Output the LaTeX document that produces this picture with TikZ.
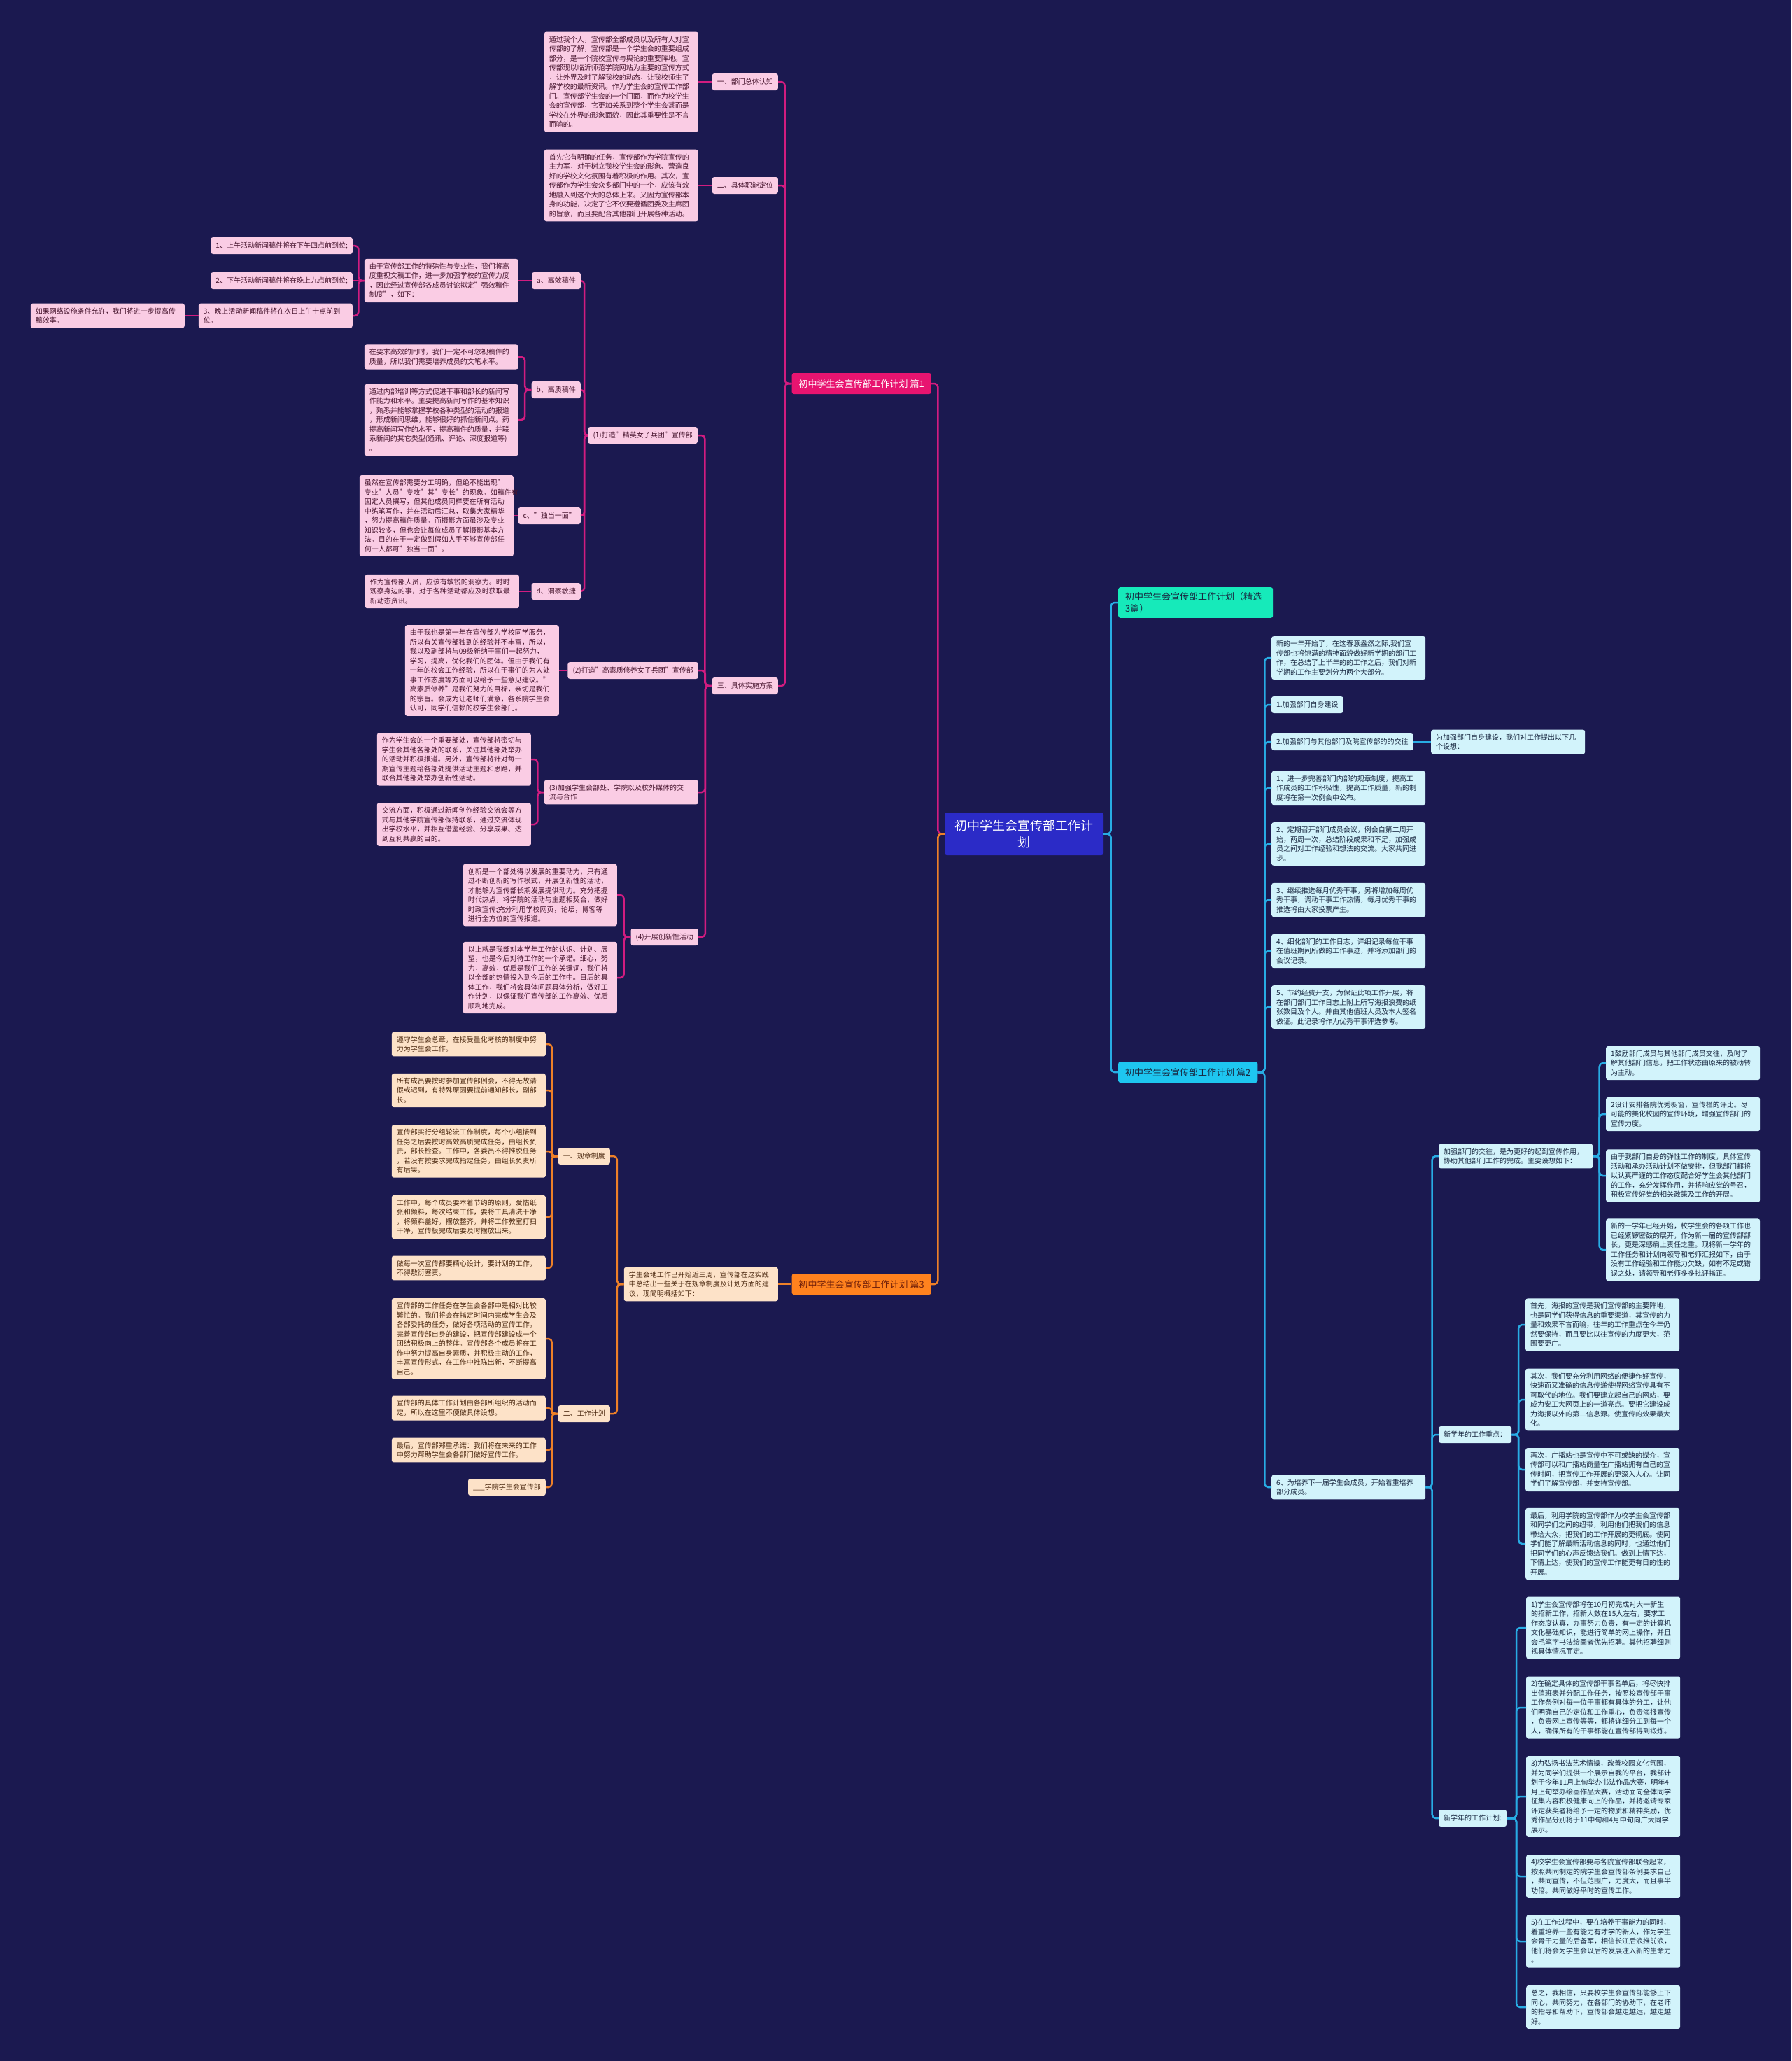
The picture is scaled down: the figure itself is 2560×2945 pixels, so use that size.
\documentclass[tikz,border=0pt]{standalone}
\usepackage{fontspec}
\setmainfont{Noto Sans CJK SC}
\usepackage{tikz}
\usetikzlibrary{calc}
\definecolor{bgnavy}{RGB}{27,25,80}
\definecolor{rootfill}{RGB}{43,43,199}
\definecolor{pkline}{RGB}{210,28,128}
\definecolor{pkhead}{RGB}{232,20,112}
\definecolor{pkfill}{RGB}{250,204,228}
\definecolor{pktext}{RGB}{70,20,45}
\definecolor{orline}{RGB}{238,128,40}
\definecolor{orhead}{RGB}{255,130,30}
\definecolor{orfill}{RGB}{253,226,200}
\definecolor{ortext}{RGB}{75,40,15}
\definecolor{orheadtext}{RGB}{110,30,10}
\definecolor{cyline}{RGB}{40,172,228}
\definecolor{cyhead}{RGB}{30,198,240}
\definecolor{jxfill}{RGB}{22,234,186}
\definecolor{cyfill}{RGB}{210,243,251}
\definecolor{cytext}{RGB}{25,40,65}
\tikzset{
  lnk/.style={line width=2.5pt, rounded corners=5pt,
    to path={-| ($(\tikztostart)!.5!(\tikztotarget)$) |- (\tikztotarget)}},
  pkl/.style={lnk, draw=pkline},
  orl/.style={lnk, draw=orline},
  cyl/.style={lnk, draw=cyline},
  root/.style={fill=rootfill, text=white, rounded corners=3pt, font=\fontsize{18}{24.3}\selectfont,
    align=center, text width=200pt, inner xsep=13.5pt, inner ysep=10pt},
  head/.style={rounded corners=3pt, font=\fontsize{13}{17.3}\selectfont, inner xsep=10pt,
    inner ysep=7pt, minimum height=30pt, align=left},
  txt/.style={rounded corners=3pt, font=\fontsize{10}{13.5}\selectfont, inner xsep=7pt,
    inner ysep=6pt, align=left},
  lbl/.style={txt, minimum height=24pt},
  box/.style={txt, text width=206pt},
  pk/.style={fill=pkfill, text=pktext},
  og/.style={fill=orfill, text=ortext},
  cy/.style={fill=cyfill, text=cytext}
}
\begin{document}
\begin{tikzpicture}[x=1pt, y=-1pt]

  % background
  \fill[bgnavy] (0,0) rectangle (2560,2945);
  \useasboundingbox (0,0) rectangle (2560,2945);

  % root
  \node[root] (root) at (1463.5,1191.5) {初中学生会宣传部工作计\\划};

  % main branches
  \node[head, fill=pkhead, text=white, anchor=east] (pian1) at (1331,548) {初中学生会宣传部工作计划 篇1};
  \node[head, fill=orhead, text=orheadtext, anchor=east] (pian3) at (1331,1835) {初中学生会宣传部工作计划 篇3};
  \node[head, fill=jxfill, text=cytext, text width=201pt, anchor=west] (jx) at (1598,861) {初中学生会宣传部工作计划（精选\\3篇）};
  \node[head, fill=cyhead, text=cytext, anchor=west] (pian2) at (1598,1532) {初中学生会宣传部工作计划 篇2};

  \draw[pkl] (root.west) to (pian1.east);
  \draw[orl] (root.west) to (pian3.east);
  \draw[cyl] (root.east) to (jx.west);
  \draw[cyl] (root.east) to (pian2.west);

  % ---------- 篇1 ----------
  \node[lbl, pk, anchor=east] (renzhi) at (1112,117) {一、部门总体认知};
  \node[box, pk, anchor=east] (renzhiTxt) at (998,117) {通过我个人，宣传部全部成员以及所有人对宣\\传部的了解，宣传部是一个学生会的重要组成\\部分，是一个院校宣传与舆论的重要阵地。宣\\传部现以临沂师范学院网站为主要的宣传方式\\，让外界及时了解我校的动态，让我校师生了\\解学校的最新资讯。作为学生会的宣传工作部\\门。宣传部学生会的一个门面，而作为校学生\\会的宣传部，它更加关系到整个学生会甚而是\\学校在外界的形象面貌，因此其重要性是不言\\而喻的。};
  \node[lbl, pk, anchor=east] (dingwei) at (1112,265) {二、具体职能定位};
  \node[box, pk, anchor=east] (dingweiTxt) at (998,265) {首先它有明确的任务，宣传部作为学院宣传的\\主力军，对于树立我校学生会的形象、营造良\\好的学校文化氛围有着积极的作用。其次，宣\\传部作为学生会众多部门中的一个，应该有效\\地融入到这个大的总体上来。又因为宣传部本\\身的功能，决定了它不仅要遵循团委及主席团\\的旨意，而且要配合其他部门开展各种活动。};
  \node[lbl, pk, anchor=east] (fangan) at (1112,980) {三、具体实施方案};

  \draw[pkl] (pian1.west) to (renzhi.east);
  \draw[pkl] (pian1.west) to (dingwei.east);
  \draw[pkl] (pian1.west) to (fangan.east);
  \draw[pkl] (renzhi.west) -- (renzhiTxt.east);
  \draw[pkl] (dingwei.west) -- (dingweiTxt.east);

  % (1) 精英女子兵团
  \node[lbl, pk, anchor=east] (jingying) at (997,622) {(1)打造"精英女子兵团"宣传部};
  \node[lbl, pk, anchor=east] (gaoxiao) at (830,401) {a、高效稿件};
  \node[box, pk, anchor=east] (gaoxiaoTxt) at (741,401) {由于宣传部工作的特殊性与专业性，我们将高\\度重视文稿工作，进一步加强学校的宣传力度\\，因此经过宣传部各成员讨论拟定"强效稿件\\制度"，如下：};
  \node[lbl, pk, anchor=east] (gx1) at (504,351) {1、上午活动新闻稿件将在下午四点前到位;};
  \node[lbl, pk, anchor=east] (gx2) at (504,401) {2、下午活动新闻稿件将在晚上九点前到位;};
  \node[box, pk, anchor=east] (gx3) at (504,451) {3、晚上活动新闻稿件将在次日上午十点前到\\位。};
  \node[box, pk, anchor=east] (gx3a) at (264,451) {如果网络设施条件允许，我们将进一步提高传\\稿效率。};
  \node[lbl, pk, anchor=east] (gaozhi) at (830,557) {b、高质稿件};
  \node[box, pk, anchor=east] (gaozhiA) at (741,510) {在要求高效的同时，我们一定不可忽视稿件的\\质量，所以我们需要培养成员的文笔水平。};
  \node[box, pk, anchor=east] (gaozhiB) at (741,600) {通过内部培训等方式促进干事和部长的新闻写\\作能力和水平。主要提高新闻写作的基本知识\\，熟悉并能够掌握学校各种类型的活动的报道\\，形成新闻思维，能够很好的抓住新闻点。药\\提高新闻写作的水平，提高稿件的质量，并联\\系新闻的其它类型(通讯、评论、深度报道等)\\。};
  \node[lbl, pk, anchor=east] (dudang) at (830,737) {c、"独当一面"};
  \node[box, pk, anchor=east] (dudangTxt) at (734,737) {虽然在宣传部需要分工明确，但绝不能出现"\\专业"人员"专攻"其"专长"的现象。如稿件有\\固定人员撰写，但其他成员同样要在所有活动\\中练笔写作，并在活动后汇总，取集大家精华\\，努力提高稿件质量。而摄影方面虽涉及专业\\知识较多，但也会让每位成员了解摄影基本方\\法。目的在于一定做到假如人手不够宣传部任\\何一人都可"独当一面"。};
  \node[lbl, pk, anchor=east] (dongcha) at (830,845) {d、洞察敏捷};
  \node[box, pk, anchor=east] (dongchaTxt) at (742,845) {作为宣传部人员，应该有敏锐的洞察力。时时\\观察身边的事，对于各种活动都应及时获取最\\新动态资讯。};

  \draw[pkl] (fangan.west) to (jingying.east);
  \draw[pkl] (jingying.west) to (gaoxiao.east);
  \draw[pkl] (jingying.west) to (gaozhi.east);
  \draw[pkl] (jingying.west) to (dudang.east);
  \draw[pkl] (jingying.west) to (dongcha.east);
  \draw[pkl] (gaoxiao.west) -- (gaoxiaoTxt.east);
  \draw[pkl] (gaoxiaoTxt.west) to (gx1.east);
  \draw[pkl] (gaoxiaoTxt.west) -- (gx2.east);
  \draw[pkl] (gaoxiaoTxt.west) to (gx3.east);
  \draw[pkl] (gx3.west) -- (gx3a.east);
  \draw[pkl] (gaozhi.west) to (gaozhiA.east);
  \draw[pkl] (gaozhi.west) to (gaozhiB.east);
  \draw[pkl] (dudang.west) -- (dudangTxt.east);
  \draw[pkl] (dongcha.west) -- (dongchaTxt.east);

  % (2) (3) (4)
  \node[lbl, pk, anchor=east] (suzhi) at (998,958) {(2)打造"高素质修养女子兵团"宣传部};
  \node[box, pk, anchor=east] (suzhiTxt) at (799,958) {由于我也是第一年在宣传部为学校同学服务，\\所以有关宣传部独到的经验并不丰富，所以，\\我以及副部将与09级新纳干事们一起努力，\\学习，提高，优化我们的团体。但由于我们有\\一年的校会工作经验，所以在干事们的为人处\\事工作态度等方面可以给予一些意见建议。"\\高素质修养"是我们努力的目标，亲切是我们\\的宗旨。会成为让老师们满意，各系院学生会\\认可，同学们信赖的校学生会部门。};
  \node[box, pk, anchor=east] (jiaoliu) at (998,1132) {(3)加强学生会部处、学院以及校外媒体的交\\流与合作};
  \node[box, pk, anchor=east] (jiaoliuA) at (759,1085) {作为学生会的一个重要部处，宣传部将密切与\\学生会其他各部处的联系，关注其他部处举办\\的活动并积极报道。另外，宣传部将针对每一\\期宣传主题给各部处提供活动主题和思路，并\\联合其他部处举办创新性活动。};
  \node[box, pk, anchor=east] (jiaoliuB) at (759,1178) {交流方面，积极通过新闻创作经验交流会等方\\式与其他学院宣传部保持联系，通过交流体现\\出学校水平，并相互借鉴经验、分享成果、达\\到互利共赢的目的。};
  \node[lbl, pk, anchor=east] (chuangxin) at (998,1339) {(4)开展创新性活动};
  \node[box, pk, anchor=east] (chuangxinA) at (882,1279) {创新是一个部处得以发展的重要动力，只有通\\过不断创新的写作模式，开展创新性的活动，\\才能够为宣传部长期发展提供动力。充分把握\\时代热点，将学院的活动与主题相契合，做好\\时政宣传;充分利用学校网页，论坛，博客等\\进行全方位的宣传报道。};
  \node[box, pk, anchor=east] (chuangxinB) at (882,1397) {以上就是我部对本学年工作的认识、计划、展\\望，也是今后对待工作的一个承诺。细心，努\\力，高效，优质是我们工作的关键词，我们将\\以全部的热情投入到今后的工作中。日后的具\\体工作，我们将会具体问题具体分析，做好工\\作计划，以保证我们宣传部的工作高效、优质\\顺利地完成。};

  \draw[pkl] (fangan.west) to (suzhi.east);
  \draw[pkl] (fangan.west) to (jiaoliu.east);
  \draw[pkl] (fangan.west) to (chuangxin.east);
  \draw[pkl] (suzhi.west) -- (suzhiTxt.east);
  \draw[pkl] (jiaoliu.west) to (jiaoliuA.east);
  \draw[pkl] (jiaoliu.west) to (jiaoliuB.east);
  \draw[pkl] (chuangxin.west) to (chuangxinA.east);
  \draw[pkl] (chuangxin.west) to (chuangxinB.east);

  % ---------- 篇3 ----------
  \node[box, og, anchor=east] (zongjie) at (1112,1835) {学生会地工作已开始近三周，宣传部在这实践\\中总结出一些关于在规章制度及计划方面的建\\议，现简明概括如下：};
  \node[lbl, og, anchor=east] (guizhang) at (872,1652) {一、规章制度};
  \node[box, og, anchor=east] (gz1) at (780,1492) {遵守学生会总章，在接受量化考核的制度中努\\力为学生会工作。};
  \node[box, og, anchor=east] (gz2) at (780,1558) {所有成员要按时参加宣传部例会，不得无故请\\假或迟到，有特殊原因要提前通知部长，副部\\长。};
  \node[box, og, anchor=east] (gz3) at (780,1645) {宣传部实行分组轮流工作制度，每个小组接到\\任务之后要按时高效高质完成任务，由组长负\\责，部长检查。工作中，各委员不得推脱任务\\，若没有按要求完成指定任务，由组长负责所\\有后果。};
  \node[box, og, anchor=east] (gz4) at (780,1739) {工作中，每个成员要本着节约的原则，爱惜纸\\张和颜料，每次结束工作，要将工具清洗干净\\，将颜料盖好，摆放整齐，并将工作教室打扫\\干净，宣传板完成后要及时摆放出来。};
  \node[box, og, anchor=east] (gz5) at (780,1812) {做每一次宣传都要精心设计，要计划的工作，\\不得敷衍塞责。};
  \node[lbl, og, anchor=east] (jihua) at (872,2020) {二、工作计划};
  \node[box, og, anchor=east] (jh1) at (780,1913) {宣传部的工作任务在学生会各部中是相对比较\\繁忙的。我们将会在指定时间内完成学生会及\\各部委托的任务，做好各项活动的宣传工作。\\完善宣传部自身的建设，把宣传部建设成一个\\团结积极向上的整体。宣传部各个成员将在工\\作中努力提高自身素质，并积极主动的工作，\\丰富宣传形式，在工作中推陈出新，不断提高\\自己。};
  \node[box, og, anchor=east] (jh2) at (780,2012) {宣传部的具体工作计划由各部所组织的活动而\\定，所以在这里不便做具体设想。};
  \node[box, og, anchor=east] (jh3) at (780,2072) {最后，宣传部郑重承诺：我们将在未来的工作\\中努力帮助学生会各部门做好宣传工作。};
  \node[lbl, og, anchor=east] (jh4) at (780,2125) {\_\_\_学院学生会宣传部};

  \draw[orl] (pian3.west) -- (zongjie.east);
  \draw[orl] (zongjie.west) to (guizhang.east);
  \draw[orl] (zongjie.west) to (jihua.east);
  \draw[orl] (guizhang.west) to (gz1.east);
  \draw[orl] (guizhang.west) to (gz2.east);
  \draw[orl] (guizhang.west) to (gz3.east);
  \draw[orl] (guizhang.west) to (gz4.east);
  \draw[orl] (guizhang.west) to (gz5.east);
  \draw[orl] (jihua.west) to (jh1.east);
  \draw[orl] (jihua.west) to (jh2.east);
  \draw[orl] (jihua.west) to (jh3.east);
  \draw[orl] (jihua.west) to (jh4.east);

  % ---------- 篇2 ----------
  \node[box, cy, anchor=west] (xinnian) at (1817,940) {新的一年开始了，在这春意盎然之际,我们宣\\传部也将饱满的精神面貌做好新学期的部门工\\作，在总结了上半年的的工作之后，我们对新\\学期的工作主要划分为两个大部分。};
  \node[lbl, cy, anchor=west] (jianshe) at (1817,1007) {1.加强部门自身建设};
  \node[lbl, cy, anchor=west] (jiaowang) at (1817,1060) {2.加强部门与其他部门及院宣传部的的交往};
  \node[box, cy, anchor=west] (shexiang) at (2045,1060) {为加强部门自身建设，我们对工作提出以下几\\个设想：};
  \node[box, cy, anchor=west] (s1) at (1817,1126) {1、进一步完善部门内部的规章制度，提高工\\作成员的工作积极性，提高工作质量，新的制\\度将在第一次例会中公布。};
  \node[box, cy, anchor=west] (s2) at (1817,1206) {2、定期召开部门成员会议，例会自第二周开\\始，两周一次，总结阶段成果和不足，加强成\\员之间对工作经验和想法的交流。大家共同进\\步。};
  \node[box, cy, anchor=west] (s3) at (1817,1286) {3、继续推选每月优秀干事，另将增加每周优\\秀干事，调动干事工作热情，每月优秀干事的\\推选将由大家投票产生。};
  \node[box, cy, anchor=west] (s4) at (1817,1359) {4、细化部门的工作日志，详细记录每位干事\\在值班期间所做的工作事迹，并将添加部门的\\会议记录。};
  \node[box, cy, anchor=west] (s5) at (1817,1439) {5、节约经费开支，为保证此项工作开展，将\\在部门部门工作日志上附上所写海报浪费的纸\\张数目及个人。并由其他值班人员及本人签名\\做证。此记录将作为优秀干事评选参考。};
  \node[box, cy, anchor=west] (s6) at (1817,2125) {6、为培养下一届学生会成员，开始着重培养\\部分成员。};

  \draw[cyl] (pian2.east) to (xinnian.west);
  \draw[cyl] (pian2.east) to (jianshe.west);
  \draw[cyl] (pian2.east) to (jiaowang.west);
  \draw[cyl] (jiaowang.east) -- (shexiang.west);
  \draw[cyl] (pian2.east) to (s1.west);
  \draw[cyl] (pian2.east) to (s2.west);
  \draw[cyl] (pian2.east) to (s3.west);
  \draw[cyl] (pian2.east) to (s4.west);
  \draw[cyl] (pian2.east) to (s5.west);
  \draw[cyl] (pian2.east) to (s6.west);

  % 加强部门的交往
  \node[box, cy, anchor=west] (jw) at (2056,1652) {加强部门的交往，是为更好的起到宣传作用，\\协助其他部门工作的完成。主要设想如下：};
  \node[box, cy, anchor=west] (jw1) at (2295,1519) {1鼓励部门成员与其他部门成员交往，及时了\\解其他部门信息，把工作状态由原来的被动转\\为主动。};
  \node[box, cy, anchor=west] (jw2) at (2295,1592) {2设计安排各院优秀橱窗，宣传栏的评比。尽\\可能的美化校园的宣传环境，增强宣传部门的\\宣传力度。};
  \node[box, cy, anchor=west] (jw3) at (2295,1680) {由于我部门自身的弹性工作的制度，具体宣传\\活动和承办活动计划不做安排，但我部门都将\\以认真严谨的工作态度配合好学生会其他部门\\的工作，充分发挥作用，并将响应党的号召，\\积极宣传好党的相关政策及工作的开展。};
  \node[box, cy, anchor=west] (jw4) at (2295,1786) {新的一学年已经开始，校学生会的各项工作也\\已经紧锣密鼓的展开，作为新一届的宣传部部\\长，更是深感肩上责任之重。现将新一学年的\\工作任务和计划向领导和老师汇报如下，由于\\没有工作经验和工作能力欠缺，如有不足或错\\误之处，请领导和老师多多批评指正。};

  % 新学年的工作重点
  \node[lbl, cy, anchor=west] (zhongdian) at (2056,2050) {新学年的工作重点：};
  \node[box, cy, anchor=west] (zd1) at (2180,1893) {首先，海报的宣传是我们宣传部的主要阵地，\\也是同学们获得信息的重要渠道，其宣传的力\\量和效果不言而喻，往年的工作重点在今年仍\\然要保持，而且要比以往宣传的力度更大，范\\围要更广。};
  \node[box, cy, anchor=west] (zd2) at (2180,2000) {其次，我们要充分利用网络的便捷作好宣传，\\快速而又准确的信息传递使得网络宣传具有不\\可取代的地位。我们要建立起自己的网站，要\\成为安工大网页上的一道亮点。要把它建设成\\为海报以外的第二信息源。使宣传的效果最大\\化。};
  \node[box, cy, anchor=west] (zd3) at (2180,2100) {再次，广播站也是宣传中不可或缺的媒介，宣\\传部可以和广播站商量在广播站拥有自己的宣\\传时间，把宣传工作开展的更深入人心。让同\\学们了解宣传部，并支持宣传部。};
  \node[box, cy, anchor=west] (zd4) at (2180,2206) {最后，利用学院的宣传部作为校学生会宣传部\\和同学们之间的纽带，利用他们把我们的信息\\带给大众，把我们的工作开展的更彻底。使同\\学们能了解最新活动信息的同时，也通过他们\\把同学们的心声反馈给我们。做到上情下达，\\下情上达，使我们的宣传工作能更有目的性的\\开展。};

  % 新学年的工作计划
  \node[lbl, cy, anchor=west] (jihua2) at (2056,2598) {新学年的工作计划:};
  \node[box, cy, anchor=west] (jp1) at (2181,2326) {1)学生会宣传部将在10月初完成对大一新生\\的招新工作，招新人数在15人左右，要求工\\作态度认真，办事努力负责，有一定的计算机\\文化基础知识，能进行简单的网上操作，并且\\会毛笔字书法绘画者优先招聘。其他招聘细则\\视具体情况而定。};
  \node[box, cy, anchor=west] (jp2) at (2181,2440) {2)在确定具体的宣传部干事名单后，将尽快排\\出值班表并分配工作任务，按照校宣传部干事\\工作条例对每一位干事都有具体的分工，让他\\们明确自己的定位和工作重心，负责海报宣传\\，负责网上宣传等等，都将详细分工到每一个\\人，确保所有的干事都能在宣传部得到锻炼。};
  \node[box, cy, anchor=west] (jp3) at (2181,2567) {3)为弘扬书法艺术情操，改善校园文化氛围，\\并为同学们提供一个展示自我的平台，我部计\\划于今年11月上旬举办书法作品大赛，明年4\\月上旬举办绘画作品大赛，活动面向全体同学\\征集内容积极健康向上的作品，并将邀请专家\\评定获奖者将给予一定的物质和精神奖励，优\\秀作品分别将于11中旬和4月中旬向广大同学\\展示。};
  \node[box, cy, anchor=west] (jp4) at (2181,2681) {4)校学生会宣传部要与各院宣传部联合起来，\\按照共同制定的院学生会宣传部条例要求自己\\，共同宣传，不但范围广，力度大，而且事半\\功倍。共同做好平时的宣传工作。};
  \node[box, cy, anchor=west] (jp5) at (2181,2774) {5)在工作过程中，要在培养干事能力的同时，\\着重培养一些有能力有才学的新人，作为学生\\会骨干力量的后备军，相信长江后浪推前浪，\\他们将会为学生会以后的发展注入新的生命力\\。};
  \node[box, cy, anchor=west] (jp6) at (2181,2868) {总之，我相信，只要校学生会宣传部能够上下\\同心，共同努力，在各部门的协助下，在老师\\的指导和帮助下，宣传部会越走越远，越走越\\好。};

  \draw[cyl] (s6.east) to (jw.west);
  \draw[cyl] (s6.east) to (zhongdian.west);
  \draw[cyl] (s6.east) to (jihua2.west);
  \draw[cyl] (jw.east) to (jw1.west);
  \draw[cyl] (jw.east) to (jw2.west);
  \draw[cyl] (jw.east) to (jw3.west);
  \draw[cyl] (jw.east) to (jw4.west);
  \draw[cyl] (zhongdian.east) to (zd1.west);
  \draw[cyl] (zhongdian.east) to (zd2.west);
  \draw[cyl] (zhongdian.east) to (zd3.west);
  \draw[cyl] (zhongdian.east) to (zd4.west);
  \draw[cyl] (jihua2.east) to (jp1.west);
  \draw[cyl] (jihua2.east) to (jp2.west);
  \draw[cyl] (jihua2.east) to (jp3.west);
  \draw[cyl] (jihua2.east) to (jp4.west);
  \draw[cyl] (jihua2.east) to (jp5.west);
  \draw[cyl] (jihua2.east) to (jp6.west);

\end{tikzpicture}
\end{document}
